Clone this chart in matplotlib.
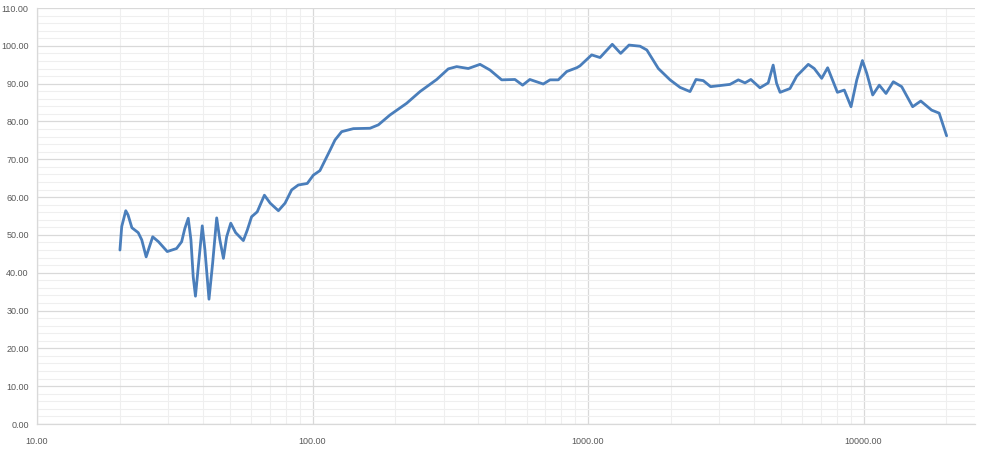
import matplotlib
matplotlib.use("Agg")
import matplotlib.pyplot as plt
from matplotlib.ticker import LogLocator, MultipleLocator, FixedLocator, FuncFormatter, NullFormatter

freq = [20, 20.3, 21.0, 21.4, 22.1, 23.3, 24.0, 24.9, 25.6, 26.3, 27.6, 29.7, 32.1, 33.5, 34.4,
        35.4, 36.2, 36.9, 37.6, 38.5, 39.8, 40.7, 42.1, 43.4, 44.9, 46.1, 47.5, 48.8, 50.5,
        52.6, 56.1, 58.0, 60.1, 63.0, 66.9, 70.2, 75.2, 79.5, 84.0, 88.8, 95.7, 100.7, 106.4,
        115.8, 120.7, 127.6, 140.7, 161.7, 173.4, 191, 219.6, 245.6, 282.4, 311, 333.7, 367.7,
        405.6, 440.8, 486, 543, 579, 615, 688, 728, 780, 837, 910, 935, 1031, 1106, 1225, 1314,
        1409, 1545, 1635, 1800, 1985, 2159, 2346, 2466, 2620, 2787, 3276, 3513, 3714, 3900,
        4209, 4510, 4700, 4836, 4980, 5408, 5724, 6303, 6624, 7051, 7411, 8041, 8518, 9010,
        9455, 9910, 10280, 10800, 11410, 12070, 12830, 13760, 15080, 16140, 17670, 18820, 20030]
level = [46.0, 52.2, 56.4, 55.3, 51.9, 50.6, 48.7, 44.2, 46.9, 49.5, 48.2, 45.6, 46.4, 48.2, 51.7,
         54.4, 48.7, 38.9, 33.8, 41.6, 52.4, 46.0, 33.0, 42.5, 54.5, 48.7, 43.8, 49.5, 53.1,
         50.6, 48.5, 51.3, 54.8, 56.1, 60.5, 58.4, 56.4, 58.4, 61.9, 63.2, 63.6, 65.8, 67.0,
         72.4, 75.1, 77.3, 78.1, 78.2, 79.1, 81.7, 84.8, 87.9, 91.1, 93.9, 94.5, 94.0,
         95.1, 93.6, 91.0, 91.1, 89.6, 91.1, 89.9, 91.0, 91.0, 93.2, 94.2, 94.7, 97.6, 96.9, 100.4, 98.0,
         100.2, 99.9, 98.9, 94.0, 91.0, 89.0, 87.9, 91.1, 90.8, 89.2, 89.8, 91.0, 90.2, 91.1,
         88.9, 90.2, 94.9, 90.1, 87.7, 88.7, 92.0, 95.1, 94.0, 91.4, 94.2, 87.7, 88.3, 83.9,
         91.0, 96.1, 92.7, 87.0, 89.6, 87.4, 90.5, 89.2, 83.9, 85.4, 83.0, 82.2, 76.2]

fig = plt.figure(figsize=(9.85, 4.57), dpi=100)
ax = fig.add_axes([37/985, 1-424/457, (975-37)/985, (424-8)/457])

ax.plot(freq, level, color="#4A7EBB", linewidth=2.0, solid_joinstyle="round", solid_capstyle="round", zorder=3)

ax.set_xscale("log")
ax.set_xlim(10, 10**(1 + (975-37)/275.5))
ax.set_ylim(0, 110)

ax.xaxis.set_major_locator(FixedLocator([10, 100, 1000, 10000]))
ax.xaxis.set_minor_locator(LogLocator(base=10, subs=[2, 3, 4, 5, 6, 7, 8, 9], numticks=20))
ax.xaxis.set_minor_formatter(NullFormatter())
ax.xaxis.set_major_formatter(FuncFormatter(lambda v, p: f"{v:.2f}"))
ax.yaxis.set_major_locator(MultipleLocator(10))
ax.yaxis.set_minor_locator(MultipleLocator(2))
ax.yaxis.set_major_formatter(FuncFormatter(lambda v, p: f"{v:.2f}"))

ax.grid(which="major", color="#D9D9D9", linewidth=0.9)
ax.grid(which="minor", color="#EFEFEF", linewidth=0.8)
ax.set_axisbelow(True)

for s in ["top", "right"]:
    ax.spines[s].set_visible(False)
for s in ["left", "bottom"]:
    ax.spines[s].set_color("#D9D9D9")
    ax.spines[s].set_linewidth(0.9)

ax.tick_params(which="both", length=0)
ax.tick_params(axis="y", pad=6, labelsize=6.5, labelcolor="#595959")
ax.tick_params(axis="x", pad=9, labelsize=6.5, labelcolor="#595959")
for lab in ax.get_xticklabels() + ax.get_yticklabels():
    lab.set_family("Liberation Sans")

fig.savefig("out.png", dpi=100)
